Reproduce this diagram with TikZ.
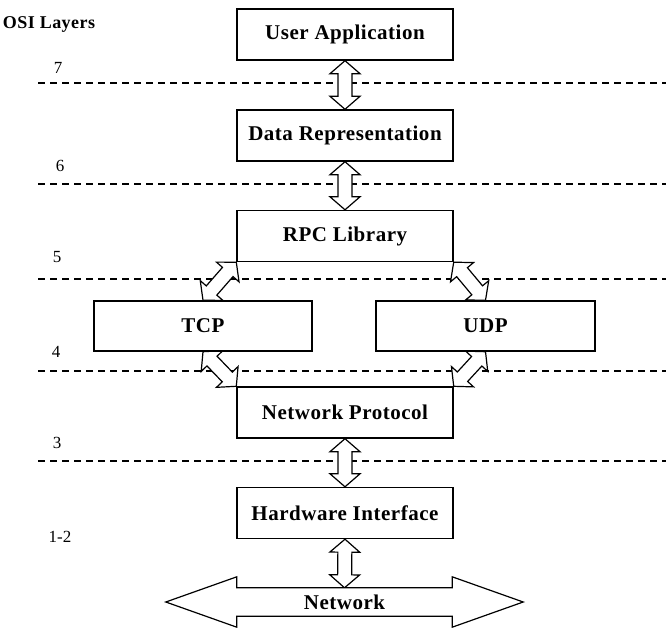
\documentclass[tikz,border=0pt]{standalone}
\usepackage{fontspec}
\setmainfont{Liberation Serif}
\newfontfamily\boxfont[LetterSpace=2.5]{Liberation Serif}
\usetikzlibrary{calc}
\pgfdeclarelayer{lines}
\pgfdeclarelayer{arrows}
\pgfsetlayers{lines,arrows,main}
\tikzset{
  layerbox/.style={draw, fill=white, line width=1.4pt, inner sep=0pt, font=\boxfont\bfseries\fontsize{21}{25}\selectfont},
  mainbox/.style={layerbox, minimum width=216pt, minimum height=51pt},
  sidebox/.style={layerbox, minimum width=218pt, minimum height=50pt},
  layerline/.style={dashed, dash pattern=on 7pt off 5pt, line width=1.1pt},
  layernum/.style={font=\fontsize{17}{20}\selectfont, inner sep=0pt},
  arrowline/.style={draw, fill=white, line width=1.2pt, line join=miter},
}
\newcommand{\dblarr}[2]{%
  \coordinate (dA) at (#1);
  \coordinate (dB) at (#2);
  \coordinate (dA1) at ($(dA)!13pt!(dB)$);
  \coordinate (dB1) at ($(dB)!13pt!(dA)$);
  \begin{pgfonlayer}{arrows}
  \path[arrowline] (dA) -- ($(dA1)!15pt!90:(dB)$) -- ($(dA1)!7pt!90:(dB)$)
    -- ($(dB1)!7pt!-90:(dA)$) -- ($(dB1)!15pt!-90:(dA)$) -- (dB)
    -- ($(dB1)!15pt!90:(dA)$) -- ($(dB1)!7pt!90:(dA)$)
    -- ($(dA1)!7pt!-90:(dB)$) -- ($(dA1)!15pt!-90:(dB)$) -- cycle;
  \end{pgfonlayer}
}
\begin{document}
\begin{tikzpicture}[x=1pt, y=-1pt]
\useasboundingbox (0,0) rectangle (666,628);
% layer lines
\coordinate (l7a) at (38,83);  \coordinate (l7b) at (666,83);
\coordinate (l6a) at (38,184); \coordinate (l6b) at (666,184);
\coordinate (l5a) at (38,279); \coordinate (l5b) at (666,279);
\coordinate (l4a) at (38,371); \coordinate (l4b) at (666,371);
\coordinate (l3a) at (38,461); \coordinate (l3b) at (666,461);
\begin{pgfonlayer}{lines}
\draw[layerline] (l7a) -- (l7b);
\draw[layerline] (l6a) -- (l6b);
\draw[layerline] (l5a) -- (l5b);
\draw[layerline] (l4a) -- (l4b);
\draw[layerline] (l3a) -- (l3b);
\end{pgfonlayer}
% labels
\node[font=\boxfont\bfseries\fontsize{18}{21}\selectfont, inner sep=0pt] (osi) at (49,24) {OSI Layers};
\node[layernum] (n7) at (58,68) {7};
\node[layernum] (n6) at (60,166) {6};
\node[layernum] (n5) at (57,257) {5};
\node[layernum] (n4) at (56,352) {4};
\node[layernum] (n3) at (57,443) {3};
\node[layernum] (n12) at (60,537) {1-2};
% boxes
\node[mainbox] (ua) at (345,34.5) {User Application};
\node[mainbox] (dr) at (345,135.5) {Data Representation};
\node[mainbox] (rpc) at (345,236) {RPC Library};
\node[sidebox] (tcp) at (203,326) {TCP};
\node[sidebox, minimum width=219pt] (udp) at (485.5,326) {UDP};
\node[mainbox] (np) at (345,412.5) {Network Protocol};
\node[mainbox] (hw) at (345,513) {Hardware Interface};
% network arrow
\node[inner sep=0pt, minimum width=215pt, minimum height=28pt,
      font=\boxfont\bfseries\fontsize{21}{25}\selectfont] (net) at (344.5,602) {Network};
% connectors
\dblarr{ua.south}{dr.north}
\dblarr{dr.south}{rpc.north}
\dblarr{rpc.south west}{tcp.north}
\dblarr{rpc.south east}{udp.north}
\dblarr{tcp.south}{np.north west}
\dblarr{udp.south}{np.north east}
\dblarr{np.south}{hw.north}
\dblarr{hw.south}{net.north}
\begin{pgfonlayer}{arrows}
\path[arrowline] (net.north west) -- ++(0,-11) -- ($(net.west)+(-71,0)$)
  -- ($(net.south west)+(0,11)$) -- (net.south west) -- (net.south east)
  -- ($(net.south east)+(0,11)$) -- ($(net.east)+(71,0)$)
  -- ($(net.north east)+(0,-11)$) -- (net.north east) -- cycle;
\end{pgfonlayer}
\end{tikzpicture}
\end{document}
